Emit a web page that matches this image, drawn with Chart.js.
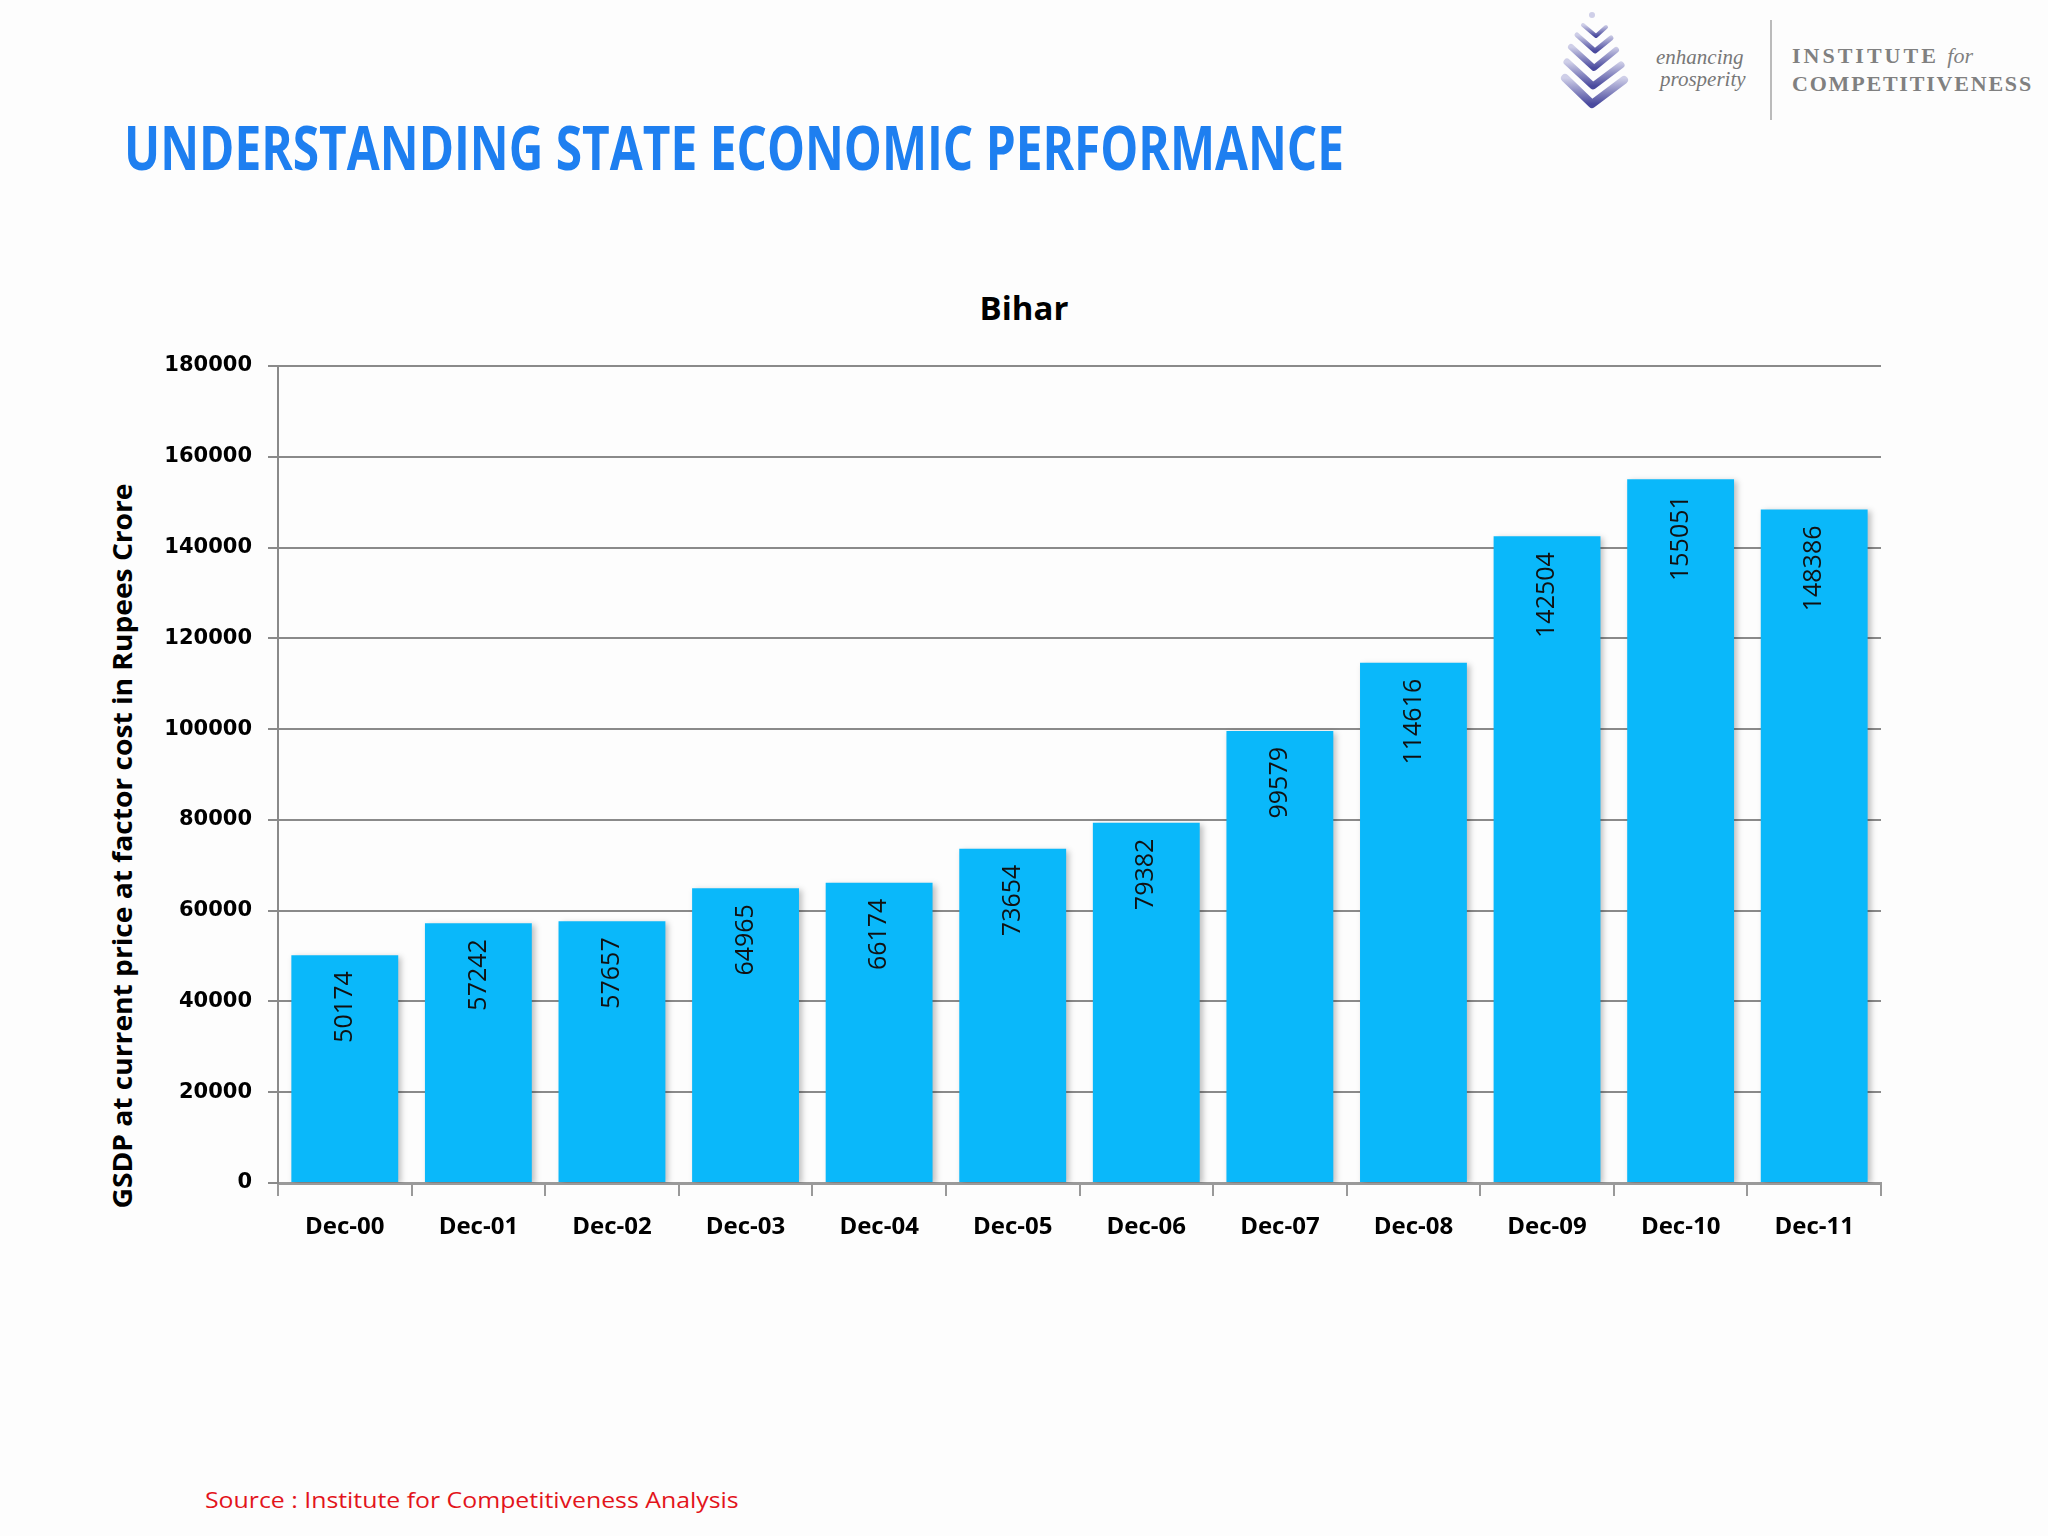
<!DOCTYPE html>
<html>
<head>
<meta charset="utf-8">
<script src="https://cdn.jsdelivr.net/npm/chart.js@4.4.0/dist/chart.umd.min.js"></script>
<style>
  html, body { margin: 0; padding: 0; background: #fdfdfd; }
  body { width: 2048px; height: 1536px; position: relative; overflow: hidden; font-family: "Open Sans", sans-serif; }
  .abs { position: absolute; white-space: nowrap; line-height: 1; }
  #pageTitle { left: 124px; top: 117px; font-size: 60px; font-weight: 700; color: #1e7ff0; transform-origin: 0 0; }
  #chartTitle { left: 1024px; top: 291px; font-size: 33px; font-weight: 700; color: #000; transform: translateX(-50%); }
  #yTitle { left: 121px; top: 846px; font-size: 27px; font-weight: 700; color: #000; }
  #source { left: 205px; top: 1488px; font-size: 22px; color: #e3141b; transform-origin: 0 0; }
  #chartBox { position: absolute; left: 0; top: 260px; width: 2048px; height: 1000px; }
  .serif { font-family: "Liberation Serif", "DejaVu Serif", serif; color: #777; }
</style>
</head>
<body>

<!-- logo (top right) -->
<svg class="abs" style="left:1556px;top:8px" width="80" height="106" viewBox="0 0 80 106">
  <defs>
    <linearGradient id="lg" x1="0" y1="1" x2="0" y2="0">
      <stop offset="0" stop-color="#4a4a9e"/>
      <stop offset="1" stop-color="#cfcfe8"/>
    </linearGradient>
  </defs>
  <g fill="none" stroke="url(#lg)" stroke-linejoin="round" stroke-linecap="round">
    <path d="M9 70 L36 96 L68 72" stroke-width="8"/>
    <path d="M11 54 L37 78 L65 57" stroke-width="7"/>
    <path d="M15 39 L38 60 L60 42" stroke-width="6"/>
    <path d="M21 27 L39 43 L55 30" stroke-width="5"/>
    <path d="M27 17 L40 28 L50 19" stroke-width="4"/>
  </g>
  <circle cx="36" cy="7" r="3" fill="#cfcfe8"/>
</svg>
<div class="abs serif" style="left:1656px;top:47px;font-size:21px;font-style:italic;">enhancing</div>
<div class="abs serif" style="left:1660px;top:69px;font-size:21px;font-style:italic;">prosperity</div>
<div class="abs" style="left:1770px;top:20px;width:2px;height:100px;background:#bbb;"></div>
<div class="abs serif" style="left:1792px;top:45px;font-size:22px;letter-spacing:3px;font-weight:700;color:#808080;">INSTITUTE <i style="letter-spacing:0;font-weight:400">for</i></div>
<div class="abs serif" style="left:1792px;top:73px;font-size:22px;letter-spacing:1.8px;font-weight:700;color:#808080;">COMPETITIVENESS</div>

<div id="pageTitle" class="abs">UNDERSTANDING STATE ECONOMIC PERFORMANCE</div>
<div id="chartTitle" class="abs">Bihar</div>
<div id="yTitle" class="abs">GSDP at current price at factor cost in Rupees Crore</div>
<div id="source" class="abs">Source : Institute for Competitiveness Analysis</div>

<div id="chartBox"><canvas id="gsdpChart" width="2048" height="1000"></canvas></div>

<script>
// --- Data ---
const categories = ['Dec-00', 'Dec-01', 'Dec-02', 'Dec-03', 'Dec-04', 'Dec-05',
                    'Dec-06', 'Dec-07', 'Dec-08', 'Dec-09', 'Dec-10', 'Dec-11'];
const gsdpValues = [50174, 57242, 57657, 64965, 66174, 73654,
                    79382, 99579, 114616, 142504, 155051, 148386];
const yTickValues = [0, 20000, 40000, 60000, 80000, 100000, 120000, 140000, 160000, 180000];

// squeeze text to the width it has in the slide
function fitWidth(el, width, extra) {
  const s = width / el.offsetWidth;
  el.style.transform = (extra || '') + ' scaleX(' + s.toFixed(4) + ')';
}
fitWidth(document.getElementById('pageTitle'), 1220);
fitWidth(document.getElementById('source'), 534);
fitWidth(document.getElementById('yTitle'), 725, 'translate(-50%,-50%) rotate(-90deg)');

// --- Value labels inside the bars + bar shadow ---
const barLabels = {
  id: 'barLabels',
  beforeDatasetsDraw(chart) {
    const ctx = chart.ctx;
    ctx.save();
    ctx.shadowColor = 'rgba(0,0,0,0.25)';
    ctx.shadowBlur = 6;
    ctx.shadowOffsetX = 3;
    ctx.shadowOffsetY = 2;
  },
  afterDatasetsDraw(chart) {
    const ctx = chart.ctx;
    ctx.restore();
    const meta = chart.getDatasetMeta(0);
    ctx.save();
    ctx.font = '25px "Open Sans"';
    ctx.fillStyle = '#111';
    ctx.textAlign = 'right';
    ctx.textBaseline = 'middle';
    meta.data.forEach((bar, i) => {
      ctx.save();
      ctx.translate(bar.x, bar.y + 16);
      ctx.rotate(-Math.PI / 2);
      ctx.fillText(String(gsdpValues[i]), 0, 0);
      ctx.restore();
    });
    ctx.restore();
  }
};

// --- Chart ---
const ctx = document.getElementById('gsdpChart');
const gsdpChart = new Chart(ctx, {
  type: 'bar',
  data: {
    labels: categories,
    datasets: [{ data: gsdpValues, backgroundColor: '#0ab8fa', borderWidth: 0,
                 barPercentage: 0.8, categoryPercentage: 1.0 }]
  },
  options: {
    responsive: false,
    animation: false,
    layout: { padding: { top: 106, left: 105, right: 167, bottom: 17 } },
    plugins: { legend: { display: false }, tooltip: { enabled: false }, title: { display: false } },
    scales: {
      x: {
        grid: { display: true, drawOnChartArea: false, drawTicks: true, tickLength: 13, color: '#999', lineWidth: 2, offset: true },
        border: { display: true, color: '#9a9a9a', width: 3 },
        ticks: { color: '#000', padding: 17, font: { family: 'Open Sans', size: 24, weight: 'bold' } },
        afterFit: (scale) => { scale.height = 60; }
      },
      y: {
        min: 0,
        max: 180000,
        afterBuildTicks: (scale) => { scale.ticks = yTickValues.map(v => ({ value: v })); },
        grid: { color: '#8a8a8a', lineWidth: 2, tickLength: 10, drawTicks: true },
        border: { display: true, color: '#8a8a8a', width: 2 },
        ticks: { color: '#000', padding: 16, callback: (v) => String(v),
                 font: { family: 'DejaVu Sans', size: 21, weight: 'bold' } },
        afterFit: (scale) => { scale.width = 173; }
      }
    }
  },
  plugins: [barLabels]
});
</script>
</body>
</html>
